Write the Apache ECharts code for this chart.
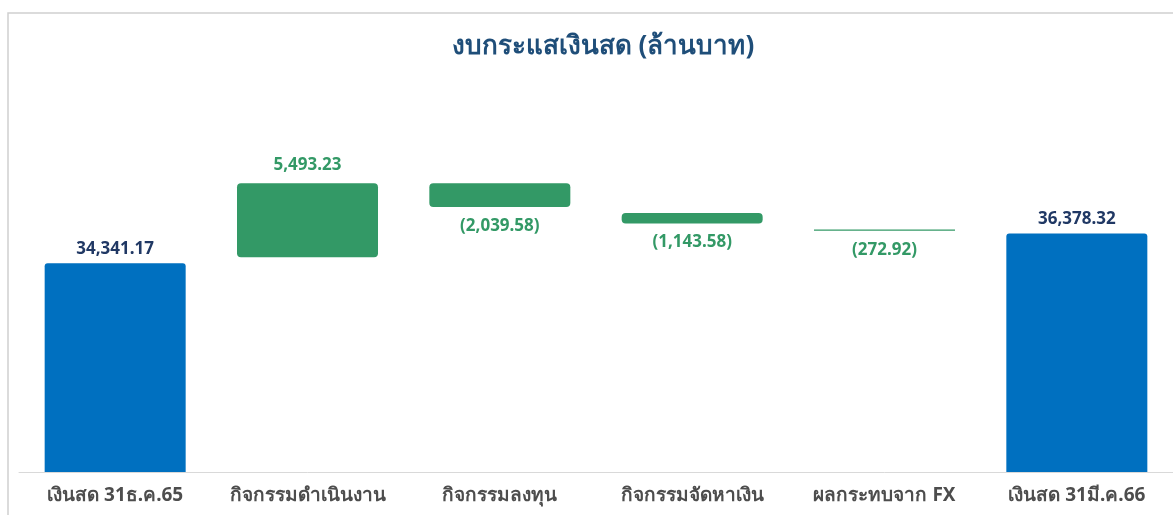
<!DOCTYPE html>
<html>
<head>
<meta charset="utf-8">
<script src="https://cdn.jsdelivr.net/npm/echarts@6/dist/echarts.min.js"></script>
<style>
  html, body { margin: 0; padding: 0; background: #fff; }
  #chart { width: 1173px; height: 515px; }
</style>
</head>
<body>
<div id="chart"></div>
<script>
// ข้อมูลงบกระแสเงินสด (ล้านบาท)
const categories = ['เงินสด 31ธ.ค.65', 'กิจกรรมดำเนินงาน', 'กิจกรรมลงทุน', 'กิจกรรมจัดหาเงิน', 'ผลกระทบจาก FX', 'เงินสด 31มี.ค.66']
const totalValues = [34341.17, null, null, null, null, 36378.32]
const changeValues = [null, 5493.23, -2039.58, -1143.58, -272.92, null]
const yTicks = [20000, 45000]

const fontFamily = '"Noto Sans", "DejaVu Sans", sans-serif'

function fmt(v) {
  const s = Math.abs(v).toLocaleString('en-US', { minimumFractionDigits: 2, maximumFractionDigits: 2 })
  return v < 0 ? '(' + s + ')' : s
}

// running level for floating bars
const floatData = []
let level = totalValues[0]
changeValues.forEach((v, i) => {
  if (v === null) return
  floatData.push([i, level, level + v, v])
  level += v
})

const chart = echarts.init(document.getElementById('chart'))
chart.setOption({
  animation: false,
  title: {
    text: 'งบกระแสเงินสด (ล้านบาท)',
    left: 598,
    textAlign: 'center',
    top: 29,
    textStyle: { color: '#1f4e79', fontSize: 26, fontWeight: 'bold', fontFamily: fontFamily }
  },
  graphic: [{
    type: 'rect',
    shape: { x: 8, y: 13, width: 1200, height: 540 },
    style: { fill: 'none', stroke: '#d0d0d0', lineWidth: 1.5 },
    silent: true
  }],
  grid: { left: 19, right: 0, top: 108, bottom: 43 },
  xAxis: {
    type: 'category',
    data: categories,
    axisTick: { show: false },
    axisLine: { lineStyle: { color: '#d9d9d9', width: 1 } },
    axisLabel: {
      color: '#4d4d4d',
      fontSize: 19,
      fontWeight: 'bold',
      fontFamily: fontFamily,
      margin: 14,
      interval: 0
    }
  },
  yAxis: {
    type: 'value',
    min: yTicks[0],
    max: yTicks[1],
    show: false
  },
  series: [
    {
      type: 'bar',
      data: totalValues,
      barWidth: 141,
      itemStyle: { color: '#0070c0', borderRadius: [3, 3, 0, 0] },
      label: {
        show: true,
        position: 'top',
        distance: 6,
        color: '#203864',
        fontSize: 17,
        fontWeight: 'bold',
        fontFamily: fontFamily,
        formatter: p => fmt(p.value)
      }
    },
    {
      type: 'custom',
      data: floatData,
      encode: { x: 0, y: [1, 2] },
      renderItem: function (params, api) {
        const idx = api.value(0)
        const a = api.coord([idx, api.value(1)])
        const b = api.coord([idx, api.value(2)])
        const change = api.value(3)
        const w = 141
        const top = Math.min(a[1], b[1])
        const bottom = Math.max(a[1], b[1]) - 6
        const h = Math.max(bottom - top, 1.2)
        const x = a[0] - w / 2
        const labelY = change >= 0 ? top - 18 : top + h + 19
        return {
          type: 'group',
          children: [
            {
              type: 'rect',
              shape: { x: x, y: top, width: w, height: h, r: h > 4 ? 4 : 0 },
              style: { fill: '#339966' }
            },
            {
              type: 'text',
              style: {
                x: a[0],
                y: labelY,
                text: fmt(change),
                align: 'center',
                verticalAlign: 'middle',
                fill: '#339966',
                font: 'bold 17px ' + fontFamily
              }
            }
          ]
        }
      }
    }
  ]
})
</script>
</body>
</html>
